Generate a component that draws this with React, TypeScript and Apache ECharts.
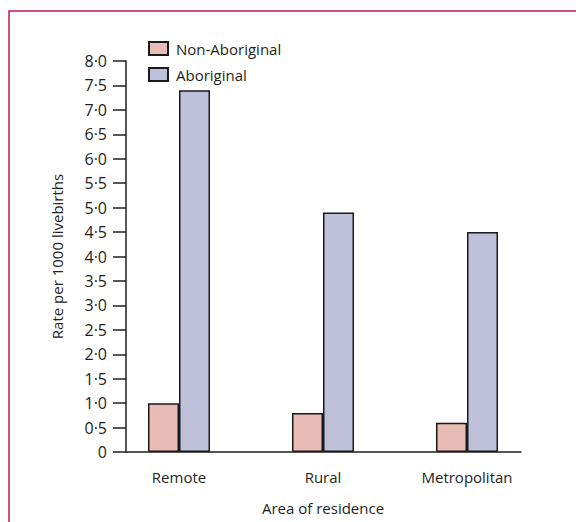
import React, { useEffect, useRef } from "react";
import * as echarts from "echarts";

const categories = ["Remote", "Rural", "Metropolitan"];
const nonAboriginal = [1.0, 0.8, 0.6];
const aboriginal = [7.4, 4.9, 4.5];
const seriesNames = ["Non-Aboriginal", "Aboriginal"];
const yMin = 0;
const yMax = 8;
const yStep = 0.5;

const FONT = "Open Sans";
const TEXT = "#231f20";

export default function App() {
  const ref = useRef<HTMLDivElement>(null);
  useEffect(() => {
    document.body.style.margin = "0";
    const chart = echarts.init(ref.current!, null, { renderer: "svg" });
    const fmt = (v: number) => (v === 0 ? "0" : v.toFixed(1).replace(".", "·"));
    chart.setOption({
      animation: false,
      textStyle: { fontFamily: FONT, color: TEXT },
      grid: [
        { left: 107, width: 432, top: 61, bottom: 70 },
        { left: 126, right: 55, top: 61, bottom: 70 },
      ],
      legend: {
        orient: "vertical",
        left: 148,
        top: 41,
        padding: 0,
        itemWidth: 19,
        itemHeight: 13,
        itemGap: 11,
        icon: "rect",
        textStyle: { fontFamily: FONT, fontSize: 15, color: TEXT, lineHeight: 13, padding: [0, 0, 0, 3] },
        data: seriesNames,
      },
      xAxis: [
        {
          type: "category",
          gridIndex: 0,
          data: categories,
          axisLine: { show: false },
          axisTick: { show: false },
          axisLabel: { margin: 17, fontSize: 15, color: TEXT, fontFamily: FONT },
          name: "Area of residence",
          nameLocation: "middle",
          nameGap: 48,
          nameTextStyle: { fontSize: 15, color: TEXT, fontFamily: FONT },
        },
        {
          type: "value",
          gridIndex: 1,
          min: 0,
          max: 1,
          axisLine: { show: true, lineStyle: { color: TEXT, width: 1.5 } },
          axisTick: { show: false },
          axisLabel: { show: false },
          splitLine: { show: false },
        },
      ],
      yAxis: [
        { type: "value", gridIndex: 0, min: yMin, max: yMax, show: false },
        {
          type: "value",
          gridIndex: 1,
          min: yMin,
          max: yMax,
          interval: yStep,
          axisLine: { show: true, lineStyle: { color: TEXT, width: 1.5 } },
          axisTick: { show: true, length: 13, lineStyle: { color: TEXT, width: 1.5 } },
          axisLabel: { formatter: fmt, margin: 19, fontSize: 16, color: TEXT, fontFamily: FONT },
          splitLine: { show: false },
          name: "Rate per 1000 livebirths",
          nameLocation: "middle",
          nameGap: 62,
          nameTextStyle: { fontSize: 15, color: TEXT, fontFamily: FONT },
        },
      ],
      series: [
        {
          name: seriesNames[0],
          type: "bar",
          xAxisIndex: 0,
          yAxisIndex: 0,
          data: nonAboriginal,
          barWidth: 31,
          barGap: "0%",
          itemStyle: { color: "#e8bcb4", borderColor: "#1a1a1a", borderWidth: 1.5 },
        },
        {
          name: seriesNames[1],
          type: "bar",
          xAxisIndex: 0,
          yAxisIndex: 0,
          data: aboriginal,
          barWidth: 31,
          barGap: "0%",
          itemStyle: { color: "#bfc0dc", borderColor: "#1a1a1a", borderWidth: 1.5 },
        },
      ],
      graphic: [
        {
          type: "polyline",
          shape: { points: [[9, 522], [9, 11], [576, 11]] },
          style: { stroke: "#c2185b", lineWidth: 1.5, fill: "none" },
          silent: true,
        },
      ],
    });
    return () => chart.dispose();
  }, []);
  return <div ref={ref} style={{ width: 576, height: 522 }} />;
}
